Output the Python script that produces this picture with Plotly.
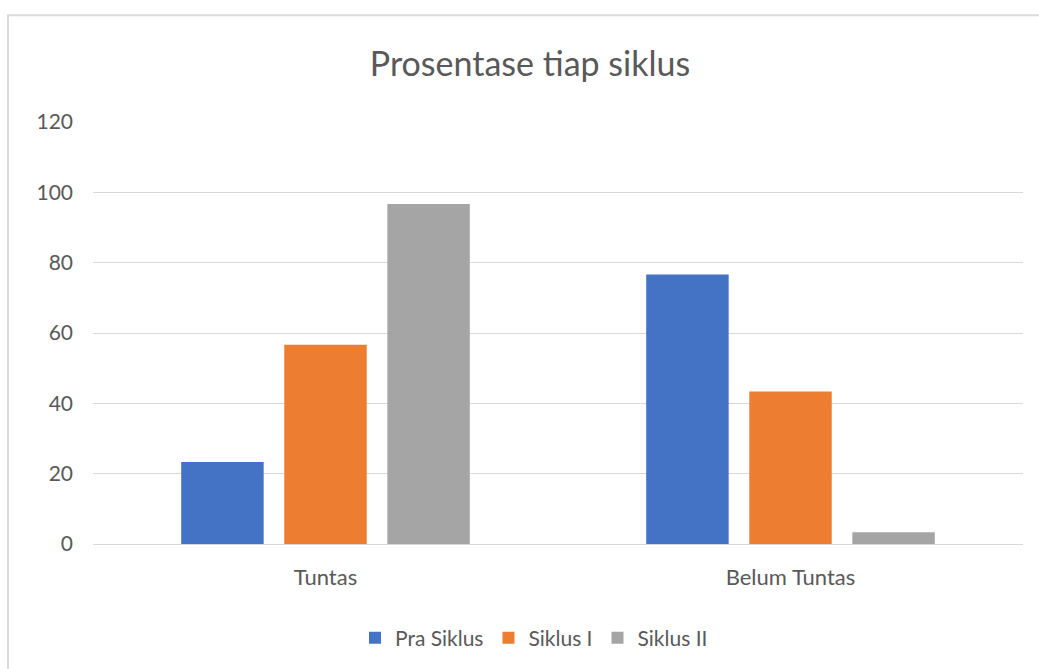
import plotly.graph_objects as go

categories = ["Tuntas", "Belum Tuntas"]
pra_siklus = [23.33, 76.67]
siklus_1 = [56.67, 43.33]
siklus_2 = [96.67, 3.33]
series_names = ["Pra Siklus", "Siklus I", "Siklus II"]
colors = ["#4472C4", "#ED7D31", "#A5A5A5"]

W, H = 1039, 669
ml, mr, mt, mb = 93, 16, 122, 124
pw, ph = W - ml - mr, H - mt - mb

fig = go.Figure()
for name, vals, c in zip(series_names, [pra_siklus, siklus_1, siklus_2], colors):
    fig.add_trace(go.Bar(x=categories, y=vals, name=name, marker=dict(color=c, line=dict(width=0))))

def px(x):
    return (x - ml) / pw

def py(y):
    return (H - mb - y) / ph

fig.update_layout(
    width=W, height=H,
    margin=dict(l=ml, r=mr, t=mt, b=mb),
    paper_bgcolor="white", plot_bgcolor="white",
    font=dict(family="Lato, Carlito, sans-serif", color="#595959", size=21),
    title=dict(text="Prosentase tiap siklus", x=530 / W, xanchor="center", xref="container",
               y=1 - 64 / H, yanchor="middle", font=dict(size=34, color="#595959")),
    barmode="group", bargap=0.335, bargroupgap=0.2,
    showlegend=True,
    legend=dict(orientation="h", x=px(534), xanchor="center", xref="paper", y=py(638), yanchor="middle",
                font=dict(size=21, color="#595959"), itemwidth=30, traceorder="normal"),
    xaxis=dict(showgrid=False, showline=True, linecolor="#D9D9D9", linewidth=1,
               ticks="", tickfont=dict(size=22, color="#595959"), ticklabelstandoff=14),
    yaxis=dict(range=[0, 120], dtick=20, showgrid=True, gridcolor="#D9D9D9", gridwidth=1,
               zeroline=False, showline=False, ticks="", tickfont=dict(size=21, color="#595959"),
               ticklabelstandoff=19),
    shapes=[dict(type="rect", xref="paper", yref="paper",
                 x0=px(8), x1=px(1060), y0=py(700), y1=py(15),
                 line=dict(color="#D9D9D9", width=2), fillcolor="rgba(0,0,0,0)", layer="below")],
)

fig.write_html("out.html", config={"displayModeBar": False},
               post_script="document.body.style.margin='0';")
